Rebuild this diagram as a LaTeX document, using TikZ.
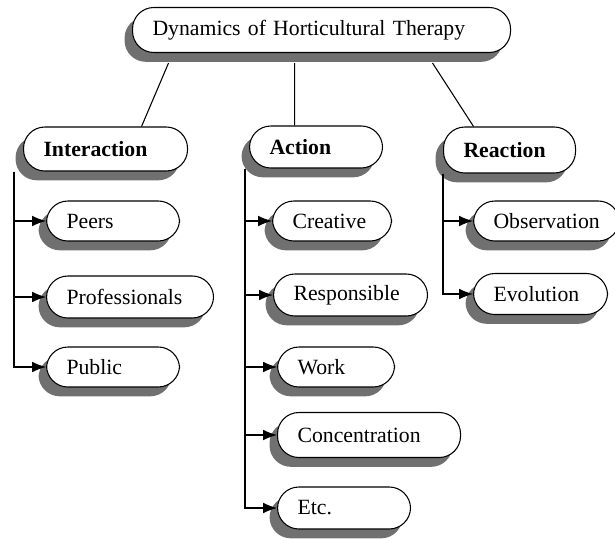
\documentclass[tikz,border=0pt]{standalone}
\usepackage{fontspec}
\setmainfont{Liberation Serif}
\usetikzlibrary{shadows,arrows.meta}
\definecolor{sombra}{RGB}{112,112,112}

\tikzset{
  caja/.style={draw=black, line width=0.8pt, fill=white, rounded corners=16pt,
    anchor=west, align=left, inner xsep=15pt, inner ysep=2pt,
    font=\fontsize{16.3}{19}\selectfont,
    general shadow={fill=sombra, shadow xshift=-6pt, shadow yshift=-7pt}},
  rama/.style={line width=0.8pt},
  flecha/.style={line width=0.8pt, -{Latex[length=10.5pt,width=8pt]}},
}

\begin{document}
\begin{tikzpicture}[x=0.75pt,y=-0.75pt]
    \useasboundingbox (0,0) rectangle (615,539);

    % Paso 1: Nodo principal
    \node[caja, text width=253.5pt, minimum height=33.75pt] (titulo) at (132,30) {Dynamics of Horticultural Therapy};

    % Paso 2: Las tres categorías
    \node[caja, text width=93pt, minimum height=33pt, font=\fontsize{16.3}{19}\selectfont\bfseries] (inter) at (23,149) {Interaction};
    \node[caja, text width=69.75pt, minimum height=31.5pt, font=\fontsize{16.3}{19}\selectfont\bfseries] (accion) at (249,147) {Action};
    \node[caja, text width=69pt, minimum height=34.5pt, font=\fontsize{16.3}{19}\selectfont\bfseries] (reac) at (443,150) {Reaction};

    % Paso 3: Elementos de cada categoría
    \node[caja, text width=69.75pt, minimum height=30pt] (pares) at (46,221) {Peers};
    \node[caja, text width=95.25pt, minimum height=31.5pt] (prof) at (46,297) {Professionals};
    \node[caja, text width=69.75pt, minimum height=30pt] (publico) at (46,367) {Public};

    \node[caja, text width=59.25pt, minimum height=30pt] (crea) at (272,221) {Creative};
    \node[caja, text width=85.5pt, minimum height=31.5pt] (resp) at (273,295) {Responsible};
    \node[caja, text width=57.75pt, minimum height=30pt] (trabajo) at (277,367) {Work};
    \node[caja, text width=107.25pt, minimum height=33.75pt] (conc) at (277,435) {Concentration};
    \node[caja, text width=69.75pt, minimum height=31.5pt] (etc) at (277,508) {Etc.};

    \node[caja, text width=79.5pt, minimum height=30pt] (obs) at (473,221) {Observation};
    \node[caja, text width=70.5pt, minimum height=30.75pt] (evol) at (473,294) {Evolution};

    % Paso 4: Líneas desde el título
    \draw[rama] ([xshift=-114.75pt,yshift=-7.5pt]titulo.south) -- ([xshift=27pt]inter.north);
    \draw[rama] ([xshift=-20.25pt,yshift=-7.5pt]titulo.south) -- ([xshift=-16pt]accion.north);
    \draw[rama] ([xshift=83.25pt,yshift=-7.5pt]titulo.south) -- ([xshift=-27pt]reac.north);

    % Paso 5: Flechas hacia los elementos
    \draw[flecha] ([xshift=-6.75pt]inter.south west) |- (pares.west);
    \draw[flecha] ([xshift=-6.75pt]inter.south west) |- (prof.west);
    \draw[flecha] ([xshift=-6.75pt]inter.south west) |- (publico.west);

    \draw[flecha] ([xshift=-3pt]accion.south west) |- (crea.west);
    \draw[flecha] ([xshift=-3pt]accion.south west) |- (resp.west);
    \draw[flecha] ([xshift=-3pt]accion.south west) |- (trabajo.west);
    \draw[flecha] ([xshift=-3pt]accion.south west) |- (conc.west);
    \draw[flecha] ([xshift=-3pt]accion.south west) |- (etc.west);

    \draw[flecha] (reac.south west) |- (obs.west);
    \draw[flecha] (reac.south west) |- (evol.west);
\end{tikzpicture}
\end{document}
